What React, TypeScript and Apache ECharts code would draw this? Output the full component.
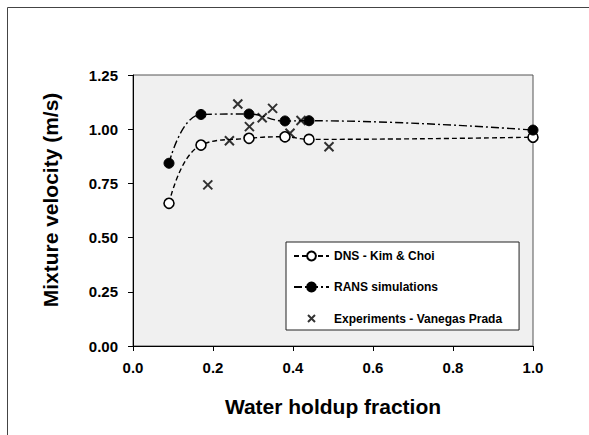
import React, { useEffect, useRef } from "react";
import * as echarts from "echarts";

const waterFraction = [0.09, 0.17, 0.29, 0.38, 0.44, 1.0];
const dnsVelocity = [0.658, 0.927, 0.958, 0.965, 0.953, 0.963];
const ransVelocity = [0.843, 1.068, 1.07, 1.038, 1.039, 0.996];
const expFraction = [0.187, 0.241, 0.262, 0.291, 0.323, 0.349, 0.3925, 0.42, 0.49];
const expVelocity = [0.743, 0.947, 1.116, 1.012, 1.053, 1.096, 0.981, 1.04, 0.919];

const seriesNames = ["DNS - Kim & Choi", "RANS simulations", "Experiments - Vanegas Prada"];
const xTitle = "Water holdup fraction";
const yTitle = "Mixture velocity (m/s)";

const FONT = '"Liberation Sans", Arial, Helvetica, sans-serif';
const CROSS = "path://M0,0L10,10M10,0L0,10";
const LEGEND_CROSS = "path://M0,0M11,11M2,2L9,9M9,2L2,9";

export default function App() {
  const ref = useRef<HTMLDivElement>(null);
  useEffect(() => {
    if (!ref.current) return;
    const chart = echarts.init(ref.current, undefined, { renderer: "svg" });
    const zip = (xs: number[], ys: number[]) => xs.map((x, i) => [x, ys[i]]);
    chart.setOption({
      animation: false,
      textStyle: { fontFamily: FONT },
      grid: {
        left: 133,
        top: 75,
        right: 56,
        bottom: 89,
        show: true,
        backgroundColor: "#f0f0f0",
        borderColor: "#555",
        borderWidth: 1,
      },
      xAxis: {
        type: "value",
        min: 0,
        max: 1,
        interval: 0.2,
        name: xTitle,
        nameLocation: "middle",
        nameGap: 50,
        nameTextStyle: { fontFamily: FONT, fontWeight: "bold", fontSize: 21, color: "#000" },
        axisLine: { lineStyle: { color: "#000", width: 1 } },
        axisTick: { show: true, inside: false, length: 5, lineStyle: { color: "#000" } },
        splitLine: { show: false },
        axisLabel: {
          margin: 14,
          fontFamily: FONT,
          fontWeight: "bold",
          fontSize: 15,
          color: "#000",
          formatter: (v: number) => v.toFixed(1),
        },
      },
      yAxis: {
        type: "value",
        min: 0,
        max: 1.25,
        interval: 0.25,
        axisLine: { show: true, lineStyle: { color: "#000", width: 1 } },
        axisTick: { show: true, inside: false, length: 5, lineStyle: { color: "#000" } },
        splitLine: { show: false },
        axisLabel: {
          margin: 15,
          fontFamily: FONT,
          fontWeight: "bold",
          fontSize: 15,
          color: "#000",
          formatter: (v: number) => v.toFixed(2),
        },
      },
      legend: {
        left: 286,
        top: 242,
        orient: "vertical",
        itemWidth: 35,
        itemHeight: 11,
        itemGap: 19,
        padding: [8, 17, 5, 7],
        backgroundColor: "#fff",
        borderColor: "#222",
        borderWidth: 1,
        textStyle: { fontFamily: FONT, fontWeight: "bold", fontSize: 12, color: "#000" },
        data: [
          { name: seriesNames[0] },
          { name: seriesNames[1] },
          { name: seriesNames[2], icon: LEGEND_CROSS },
        ],
      },
      graphic: [
        {
          type: "line",
          shape: { x1: 7.5, y1: 7.5, x2: 589, y2: 7.5 },
          style: { stroke: "#444", lineWidth: 1 },
        },
        {
          type: "line",
          shape: { x1: 7.5, y1: 7.5, x2: 7.5, y2: 435 },
          style: { stroke: "#444", lineWidth: 1 },
        },
        {
          type: "text",
          x: 50,
          y: 200,
          rotation: Math.PI / 2,
          style: {
            text: yTitle,
            fontFamily: FONT,
            fontWeight: "bold",
            fontSize: 21,
            fill: "#000",
            align: "center",
            verticalAlign: "middle",
          },
        },
      ],
      series: [
        {
          name: seriesNames[2],
          type: "scatter",
          data: zip(expFraction, expVelocity),
          symbol: CROSS,
          symbolSize: 9,
          itemStyle: { color: "#000", borderColor: "#000", borderWidth: 2 },
          z: 2,
        },
        {
          name: seriesNames[0],
          type: "line",
          data: zip(waterFraction, dnsVelocity),
          smooth: 0.45,
          symbol: "circle",
          symbolSize: 10,
          showAllSymbol: true,
          lineStyle: { color: "#000", width: 1.4, type: [5, 3] },
          itemStyle: { color: "#fff", borderColor: "#000", borderWidth: 1.6 },
          z: 3,
        },
        {
          name: seriesNames[1],
          type: "line",
          data: zip(waterFraction, ransVelocity),
          smooth: 0.45,
          symbol: "circle",
          symbolSize: 10,
          showAllSymbol: true,
          lineStyle: { color: "#000", width: 1.4, type: [8, 3, 2, 3] },
          itemStyle: { color: "#000", borderColor: "#000", borderWidth: 1 },
          z: 4,
        },
      ],
    });
    return () => chart.dispose();
  }, []);
  return (
    <div
      ref={ref}
      style={{ position: "fixed", left: 0, top: 0, width: 589, height: 435, background: "#fff" }}
    />
  );
}
